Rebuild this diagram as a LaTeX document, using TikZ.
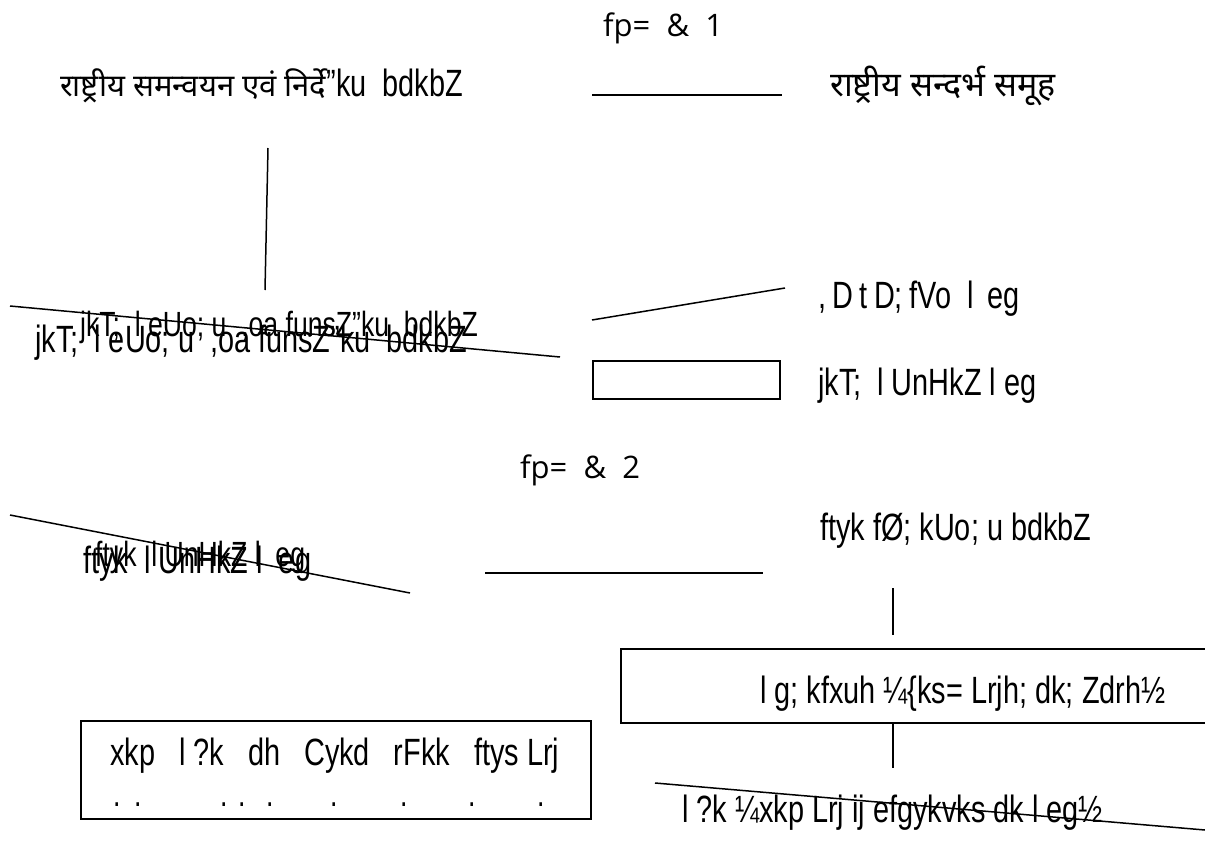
\documentclass[tikz,border=0pt]{standalone}
\usepackage{fontspec}
\setmainfont{Open Sans}
\newfontfamily\kfont[FakeStretch=0.76]{Liberation Sans}
\newfontfamily\devfont[Script=Devanagari]{Noto Sans}
\usetikzlibrary{positioning}

\begin{document}
\begin{tikzpicture}[
    x=1pt, y=-1pt,
    lbl/.style={anchor=base west, inner sep=0pt, font=\kfont\fontsize{38}{44}\selectfont},
    lblsmall/.style={lbl, font=\kfont\fontsize{35}{40}\selectfont},
    dev/.style={anchor=base west, inner sep=0pt, font=\devfont\fontsize{31}{36}\selectfont},
    fig/.style={anchor=base west, inner sep=0pt, font=\fontsize{31}{36}\selectfont},
    edge/.style={line width=1.5pt, black},
    frame/.style={draw, line width=1.5pt, anchor=north west, inner sep=0pt}
]
\useasboundingbox (0,0) rectangle (1205,843);

% figure 1
\node[fig] (fig1) at (603,37) {fp=\ \ \&\ \ 1};
\node[dev] (natcoord) at (60,96) {राष्ट्रीय समन्वयन एवं निर्दे{\kfont\fontsize{38}{44}\selectfont ”ku\ \ bdkbZ}};
\node[dev, font=\devfont\fontsize{34}{40}\selectfont] (natref) at (830,96) {राष्ट्रीय सन्दर्भ समूह};
\coordinate (h1a) at (592,95);
\coordinate (h1b) at (782,95);
\draw[edge] (h1a) -- (h1b);
\coordinate (v1a) at (268,148);
\coordinate (v1b) at (265,290);
\draw[edge] (v1a) -- (v1b);

\node[lbl] (stunit) at (35,352) {jkT;\ \ l eUo; u\ \ ,oa funsZ”ku\ \ bdkbZ};
\node[lblsmall] (stunit2) at (80,336) {jkT;\ \ l eUo; u\ \ ,oa funsZ”ku\ \ bdkbZ};
\coordinate (s1a) at (10,306);
\coordinate (s1b) at (560,357);
\draw[edge] (s1a) -- (s1b);

\node[lbl] (exec) at (818,308) {,\,D\,t\,D;\,fVo\ \ l\, eg};
\coordinate (s2a) at (592,320);
\coordinate (s2b) at (785,288);
\draw[edge] (s2a) -- (s2b);
\node[frame, minimum width=187pt, minimum height=38pt] (stbox) at (592,360) {};
\node[lbl] (stref) at (818,395) {jkT;\ \ l UnHkZ l eg};

% figure 2
\node[fig] (fig2) at (520,478) {fp=\ \ \&\ \ 2};
\node[lbl] (distref) at (83,573) {ftyk\ \ l UnHkZ\ l\ \ eg};
\node[lblsmall] (distref2) at (95,566) {ftyk\ \ l UnHkZ\ l\ \ eg};
\coordinate (s3a) at (10,515);
\coordinate (s3b) at (410,593);
\draw[edge] (s3a) -- (s3b);
\coordinate (h2a) at (485,573);
\coordinate (h2b) at (763,573);
\draw[edge] (h2a) -- (h2b);

\node[lbl] (distunit) at (820,540) {ftyk fØ; kUo; u bdkbZ};
\coordinate (v2a) at (893,588);
\coordinate (v2b) at (893,635);
\draw[edge] (v2a) -- (v2b);
\node[frame, minimum width=600pt, minimum height=74pt] (helpbox) at (620,648) {};
\node[lbl] (helper) at (760,703) {l g; kfxuh ¼\{ks= Lrjh;\ dk; Zdrh½};
\coordinate (v3a) at (893,722);
\coordinate (v3b) at (893,768);
\draw[edge] (v3a) -- (v3b);

\node[lbl] (sangh) at (682,822) {l ?k\ ¼xkp Lrj ij\ efgykvks dk l eg½};
\coordinate (s4a) at (655,783);
\coordinate (s4b) at (1205,830);
\draw[edge] (s4a) -- (s4b);

\node[frame, minimum width=510pt, minimum height=98pt] (vilbox) at (80,720) {};
\node[lbl] (village) at (110,765) {xkp\hspace{24pt}l ?k\hspace{24pt}dh\hspace{24pt}Cykd\hspace{24pt}rFkk\hspace{24pt}ftys Lrj};
\foreach \dx [count=\i] in {113,134,220,238,266,330,400,468,537}
    \node[lblsmall] (dot\i) at (\dx,806) {.};
\end{tikzpicture}
\end{document}
